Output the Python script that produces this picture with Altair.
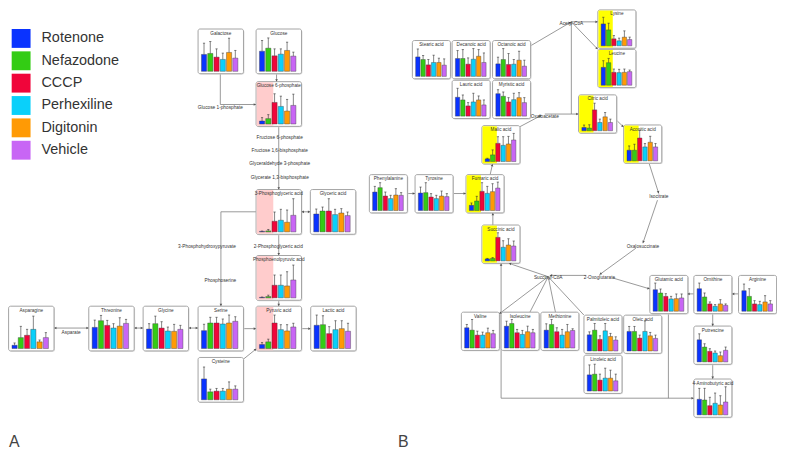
import math
import altair as alt
import pandas as pd

# ---------------- data ----------------
TREATMENTS = ["Rotenone", "Nefazodone", "CCCP", "Perhexiline", "Digitonin", "Vehicle"]
COLORS = ["#0a33ff", "#33cc14", "#f0053a", "#0ad0fa", "#ff9a05", "#c866f5"]

# panel A (glycolysis / amino acids): bar means and error bars (relative units)
GALACTOSE = [17, 18, 14.3, 12, 19, 13.3]
GALACTOSE_SD = [11.3, 12, 8.3, 6.3, 14.3, 7.7]
GLUCOSE = [20.3, 23.3, 15.6, 17.3, 21, 15.3]
GLUCOSE_SD = [10.7, 10.3, 7, 5.3, 8.3, 4]
G6P = [3, 5.4, 21.7, 17.7, 13, 18.7]
G6P_SD = [3.4, 4, 8.7, 10.3, 11.7, 11.3]
PG3 = [0.5, 1, 10.7, 11.7, 9.7, 16.7]
PG3_SD = [0.3, 1.4, 9.3, 11, 12.3, 16.7]
GLYCERIC = [18, 21, 21, 17.4, 19, 16.4]
GLYCERIC_SD = [5, 4, 12.4, 5.3, 4.4, 3.6]
PEP = [0.5, 1.3, 12.7, 12.7, 12, 18]
PEP_SD = [0.3, 1.4, 10.3, 10.3, 14.3, 15]
PYRUVIC = [4, 6.7, 25.7, 19, 17.7, 21.7]
PYRUVIC_SD = [2, 2.7, 8, 5, 6.3, 3.7]
LACTIC = [23.4, 24, 15, 19, 20, 17.4]
LACTIC_SD = [10.3, 9, 7, 9, 8, 8]
SERINE = [18, 25.7, 25.7, 24.7, 25.7, 27.4]
SERINE_SD = [6.4, 5.7, 5.7, 5, 8, 4.6]
CYSTEINE = [21, 8, 8.7, 8.7, 10.7, 10.7]
CYSTEINE_SD = [12, 2.7, 2.7, 2.7, 7.3, 3.3]
ASPARAGINE = [3.3, 11, 13.3, 19.3, 6.7, 11]
ASPARAGINE_SD = [2.3, 11.3, 6, 13.3, 1.9, 5]
THREONINE = [21.3, 28, 23.3, 20.6, 22.6, 25.3]
THREONINE_SD = [7.3, 5.3, 5, 4.4, 8.4, 4]
GLYCINE = [19.6, 25, 20.6, 17.6, 17.3, 19.3]
GLYCINE_SD = [5.4, 7.6, 6.4, 4, 7, 4]

# panel B (TCA cycle / fatty acids / amino acids)
STEARIC = [19.6, 17, 11.6, 14, 14, 11.3]
STEARIC_SD = [8, 4, 5.4, 7.3, 4.3, 6.3]
DECANOIC = [18, 18, 12.3, 17.3, 20.3, 14]
DECANOIC_SD = [8, 9, 6.3, 10.7, 6.7, 9.6]
OCTANOIC = [12.6, 17, 12, 12.3, 16.3, 10.3]
OCTANOIC_SD = [6.7, 11, 11, 4.7, 9, 6]
LAURIC = [19, 16.3, 10.3, 14.3, 16.3, 11.3]
LAURIC_SD = [9, 5, 3.3, 8.7, 4, 5]
MYRISTIC = [22.6, 20, 14.3, 16.6, 18.6, 13.6]
MYRISTIC_SD = [4, 4.3, 4.3, 6.4, 5, 5]
LYSINE = [22, 16, 7, 5, 8.7, 6.3]
LYSINE_SD = [6.7, 6.7, 3.3, 2.7, 6.3, 2.4]
LEUCINE = [18, 22.7, 13, 12.7, 13, 13.7]
LEUCINE_SD = [6.7, 4.3, 3.3, 3.3, 3.3, 1.6]
CITRIC = [3.3, 2.7, 21, 8.3, 14, 8.3]
CITRIC_SD = [2.4, 3.3, 6.7, 3.4, 4.3, 3.4]
ACONITIC = [10.7, 10.7, 23, 14, 18.7, 14]
ACONITIC_SD = [4.3, 6, 7.7, 3.4, 6, 3.4]
MALIC = [2.7, 6.7, 18.3, 16.3, 17.7, 21.7]
MALIC_SD = [0.6, 5, 6.7, 8.7, 7.6, 6.6]
FUMARIC = [5.3, 9.6, 19.3, 17.3, 19, 22.6]
FUMARIC_SD = [2.3, 4.7, 8.7, 7, 8, 6]
SUCCINIC = [2, 2.5, 23.7, 13.7, 16, 15]
SUCCINIC_SD = [0.5, 0.8, 4.6, 6.6, 6.3, 5]
PHENYLALANINE = [18.6, 23, 14.6, 12, 15.6, 15.3]
PHENYLALANINE_SD = [5.7, 5, 4, 3.3, 6.4, 2.7]
TYROSINE = [17.6, 18, 13.6, 12, 14.6, 14]
TYROSINE_SD = [6, 10, 3.4, 3.3, 5, 3]
VALINE = [20.4, 18, 13, 13, 15.4, 14.4]
VALINE_SD = [3.3, 10.7, 4, 3, 4.6, 3.3]
ISOLEUCINE = [22, 24.7, 15.4, 13.7, 16.4, 15.4]
ISOLEUCINE_SD = [5, 4, 3.3, 4, 5.6, 3.3]
METHIONINE = [18, 23.7, 16.4, 13, 16.4, 17.7]
METHIONINE_SD = [6.4, 5, 4, 5.7, 7.3, 1.7]
PALMITOLEIC = [16.3, 21, 11.7, 20.3, 14.7, 11]
PALMITOLEIC_SD = [3, 6.7, 3.6, 7.4, 3, 3.3]
OLEIC = [19.7, 19.7, 13, 19.7, 15.3, 12.7]
OLEIC_SD = [5, 5, 3, 10.6, 3.4, 3.3]
LINOLEIC = [16.3, 17, 11, 13, 13, 10.3]
LINOLEIC_SD = [10, 10, 6, 10, 8, 6.7]
GLUTAMIC = [21.7, 18.4, 15, 12.4, 12.7, 13.4]
GLUTAMIC_SD = [6.7, 4, 2.7, 2.6, 4.7, 4]
ORNITHINE = [22.7, 14.4, 7.4, 5, 7.4, 6]
ORNITHINE_SD = [5.7, 4, 2, 1.7, 4.3, 1.4]
ARGININE = [20.7, 15, 7.4, 6.7, 9.4, 7.4]
ARGININE_SD = [6.7, 7.7, 3.3, 3.3, 6.3, 3.3]
PUTRESCINE = [22.3, 15, 10.7, 9, 6.3, 11.7]
PUTRESCINE_SD = [6, 3.3, 2.6, 2, 3.7, 3.3]
GABA = [15.7, 15, 9.3, 11.7, 10, 13]
GABA_SD = [11, 11.7, 8.4, 10.3, 9.3, 15.3]

# ---------------- layout (diagram geometry, page pixels) ----------------
A_STYLE = dict(w=45.7, h=45.0, pad=3.4, pitch=6.3, bw=5.2, hl=17.3)
B_STYLE = dict(w=38.3, h=38.5, pad=3.3, pitch=5.3, bw=4.4, hl=15.0)

PANELS = [
    # title, means, sds, x0, y0, style, highlight colour
    ("Galactose", GALACTOSE, GALACTOSE_SD, 199.3, 27.7, A_STYLE, None),
    ("Glucose", GLUCOSE, GLUCOSE_SD, 257.7, 27.7, A_STYLE, None),
    ("Glucose 6-phosphate", G6P, G6P_SD, 257.7, 80.7, A_STYLE, "#ffcccc"),
    ("3-Phosphoglyceric acid", PG3, PG3_SD, 257.7, 189.3, A_STYLE, "#ffcccc"),
    ("Glyceric acid", GLYCERIC, GLYCERIC_SD, 312.3, 189.3, A_STYLE, None),
    ("Phosphoenolpyruvic acid", PEP, PEP_SD, 257.7, 255.7, A_STYLE, "#ffcccc"),
    ("Pyruvic acid", PYRUVIC, PYRUVIC_SD, 257.7, 306.7, A_STYLE, "#ffcccc"),
    ("Lactic acid", LACTIC, LACTIC_SD, 312.7, 306.7, A_STYLE, None),
    ("Serine", SERINE, SERINE_SD, 199.3, 306.7, A_STYLE, None),
    ("Cysteine", CYSTEINE, CYSTEINE_SD, 199.3, 358.3, A_STYLE, None),
    ("Asparagine", ASPARAGINE, ASPARAGINE_SD, 8.6, 306.7, A_STYLE, None),
    ("Threonine", THREONINE, THREONINE_SD, 89.3, 306.7, A_STYLE, None),
    ("Glycine", GLYCINE, GLYCINE_SD, 144.0, 306.7, A_STYLE, None),
    ("Stearic acid", STEARIC, STEARIC_SD, 415.0, 39.3, B_STYLE, None),
    ("Decanoic acid", DECANOIC, DECANOIC_SD, 455.0, 39.3, B_STYLE, None),
    ("Octanoic acid", OCTANOIC, OCTANOIC_SD, 495.7, 39.3, B_STYLE, None),
    ("Lauric acid", LAURIC, LAURIC_SD, 455.0, 79.3, B_STYLE, None),
    ("Myristic acid", MYRISTIC, MYRISTIC_SD, 495.7, 79.3, B_STYLE, None),
    ("Lysine", LYSINE, LYSINE_SD, 601.7, 8.5, B_STYLE, "#ffff00"),
    ("Leucine", LEUCINE, LEUCINE_SD, 601.7, 48.2, B_STYLE, "#ffff00"),
    ("Citric acid", CITRIC, CITRIC_SD, 582.3, 94.0, B_STYLE, "#ffff00"),
    ("Aconitic acid", ACONITIC, ACONITIC_SD, 627.7, 124.3, B_STYLE, "#ffff00"),
    ("Malic acid", MALIC, MALIC_SD, 485.0, 125.0, B_STYLE, "#ffff00"),
    ("Fumaric acid", FUMARIC, FUMARIC_SD, 469.0, 174.3, B_STYLE, "#ffff00"),
    ("Succinic acid", SUCCINIC, SUCCINIC_SD, 485.0, 225.0, B_STYLE, "#ffff00"),
    ("Phenylalanine", PHENYLALANINE, PHENYLALANINE_SD, 371.7, 174.3, B_STYLE, None),
    ("Tyrosine", TYROSINE, TYROSINE_SD, 417.7, 174.3, B_STYLE, None),
    ("Valine", VALINE, VALINE_SD, 464.3, 312.7, B_STYLE, None),
    ("Isoleucine", ISOLEUCINE, ISOLEUCINE_SD, 504.3, 312.7, B_STYLE, None),
    ("Methionine", METHIONINE, METHIONINE_SD, 544.3, 312.7, B_STYLE, None),
    ("Palmitoleic acid", PALMITOLEIC, PALMITOLEIC_SD, 587.7, 315.7, B_STYLE, None),
    ("Oleic acid", OLEIC, OLEIC_SD, 627.7, 315.7, B_STYLE, None),
    ("Linoleic acid", LINOLEIC, LINOLEIC_SD, 587.7, 356.0, B_STYLE, None),
    ("Glutamic acid", GLUTAMIC, GLUTAMIC_SD, 654.0, 275.7, B_STYLE, None),
    ("Ornithine", ORNITHINE, ORNITHINE_SD, 698.3, 275.7, B_STYLE, None),
    ("Arginine", ARGININE, ARGININE_SD, 743.3, 275.7, B_STYLE, None),
    ("Putrescine", PUTRESCINE, PUTRESCINE_SD, 698.3, 326.7, B_STYLE, None),
    ("4-Aminobutyric acid", GABA, GABA_SD, 698.3, 380.0, B_STYLE, None),
]

# pathway edges: x1, y1, x2, y2, arrow heads
EDGES = [
    (221.7, 72.7, 221.7, 103.7, "none"), (221.7, 103.7, 257.7, 103.7, "end"),
    (278.3, 72.7, 278.3, 80.7, "end"),
    (280.5, 126.0, 280.5, 189.3, "end"),
    (280.5, 234.3, 280.5, 255.7, "end"),
    (303.4, 211.7, 312.3, 211.7, "both"),
    (257.7, 211.7, 222.3, 211.7, "none"), (222.3, 211.7, 222.3, 306.7, "end"),
    (280.5, 300.7, 280.5, 306.7, "end"),
    (245.0, 329.3, 257.7, 329.3, "end"),
    (245.0, 360.0, 258.0, 349.5, "end"),
    (303.4, 329.3, 312.7, 329.3, "end"),
    (54.3, 328.7, 89.3, 328.7, "both"),
    (135.0, 328.7, 144.0, 328.7, "both"),
    (189.7, 328.7, 199.3, 328.7, "both"),
    (533.3, 45.0, 575.0, 20.5, "end"),
    (575.0, 20.5, 601.7, 20.5, "end"),
    (575.0, 20.5, 601.7, 48.2, "end"),
    (575.0, 20.5, 575.0, 113.3, "none"),
    (548.3, 113.3, 582.3, 113.3, "end"),
    (523.3, 126.0, 545.0, 114.5, "end"),
    (621.0, 120.0, 627.7, 126.5, "end"),
    (653.3, 163.0, 663.0, 193.3, "end"),
    (661.7, 200.0, 647.0, 243.3, "end"),
    (640.0, 248.3, 603.3, 275.0, "end"),
    (590.0, 275.7, 553.3, 275.7, "end"),
    (616.7, 278.3, 654.0, 289.3, "end"),
    (551.7, 277.0, 502.3, 314.5, "end"),
    (551.7, 277.0, 533.3, 312.7, "none"),
    (551.7, 277.0, 559.0, 312.7, "none"),
    (551.7, 277.0, 587.7, 315.7, "none"),
    (551.7, 277.0, 512.0, 263.5, "end"),
    (496.0, 225.0, 496.0, 212.8, "end"),
    (493.3, 174.3, 495.7, 163.5, "end"),
    (410.0, 193.3, 417.7, 193.3, "end"),
    (456.0, 193.3, 469.0, 193.3, "end"),
    (743.3, 294.3, 736.6, 294.3, "end"),
    (698.3, 294.3, 691.7, 294.3, "end"),
    (717.3, 314.2, 717.3, 326.7, "end"),
    (717.3, 365.2, 717.3, 380.0, "end"),
    (672.7, 314.2, 672.7, 399.3, "none"),
    (504.3, 399.3, 698.3, 399.3, "end"),
    (504.3, 399.3, 504.3, 263.5, "end"),
]

# intermediate metabolite labels
NODES = [
    ("Glucose 1-phosphate", 221.7, 107.6),
    ("Fructose 6-phosphate", 281.5, 137.7),
    ("Fructose 1,6-bisphosphate", 281.5, 150.7),
    ("Glyceraldehyde 3-phosphate", 281.5, 164.0),
    ("Glycerate 1,3-bisphosphate", 281.5, 177.3),
    ("2-Phosphoglyceric acid", 280.0, 247.3),
    ("3-Phosphohydroxypyruvate", 208.3, 247.3),
    ("Phosphoserine", 221.7, 281.7),
    ("Asparate", 71.5, 333.5),
    ("Acetyl-CoA", 575.0, 23.0),
    ("Oxaloacetate", 548.3, 116.7),
    ("Isocitrate", 663.0, 196.7),
    ("Oxalosuccinate", 647.0, 246.7),
    ("2-Oxoglutarate", 603.3, 278.3),
    ("Succinyl-CoA", 551.7, 278.3),
]

# ---------------- build tables ----------------
box_rows, bar_rows, hl_rows = [], [], []
for title, means, sds, x0, y0, st, hl in PANELS:
    w, h = st["w"], st["h"]
    box_rows.append(dict(title=title, x0=x0, x1=x0 + w, y0=y0, y1=y0 + h,
                         sx0=x0 + 0.9, sx1=x0 + w + 0.9, sy0=y0 + 0.9, sy1=y0 + h + 0.9,
                         cx=x0 + w / 2, ty=y0 + 4.6))
    if hl:
        hl_rows.append(dict(x0=x0 + 0.6, x1=x0 + st["hl"], y0=y0 + 0.6, y1=y0 + h - 0.6, c=hl))
    base = y0 + h - 2.4
    for i, (t, m, s) in enumerate(zip(TREATMENTS, means, sds)):
        bx0 = x0 + st["pad"] + i * st["pitch"]
        cx = bx0 + st["bw"] / 2
        bar_rows.append(dict(treatment=t, bx0=bx0, bx1=bx0 + st["bw"], base=base,
                             top=base - m, etop=base - m - s, cx=cx,
                             c0=cx - 1.1, c1=cx + 1.1))

boxes = pd.DataFrame(box_rows)
bars = pd.DataFrame(bar_rows)
hls = pd.DataFrame(hl_rows)

edge_rows, head_rows = [], []
for x1, y1, x2, y2, hd in EDGES:
    edge_rows.append(dict(x1=x1, y1=y1, x2=x2, y2=y2))
    ends = []
    if hd in ("end", "both"):
        ends.append((x1, y1, x2, y2))
    if hd == "both":
        ends.append((x2, y2, x1, y1))
    for ax, ay, bx, by in ends:
        dx, dy = bx - ax, by - ay
        L = math.hypot(dx, dy)
        ang = math.degrees(math.atan2(dx, -dy)) % 360
        head_rows.append(dict(hx=bx - dx / L * 1.3, hy=by - dy / L * 1.3, ang=ang))
edges = pd.DataFrame(edge_rows)
heads = pd.DataFrame(head_rows)
nodes = pd.DataFrame(NODES, columns=["label", "nx", "ny"])
letters = pd.DataFrame([("A", 9.0, 448.5), ("B", 400.5, 448.5)], columns=["t", "lx", "ly"])

# ---------------- chart ----------------
W, H = 774, 442
XS = alt.Scale(domain=[8, 8 + W], nice=False, zero=False)
YS = alt.Scale(domain=[8, 8 + H], nice=False, zero=False, reverse=True)
FONT = "Liberation Sans"


def X(f):
    return alt.X(f, type="quantitative", scale=XS, axis=None)


def Y(f):
    return alt.Y(f, type="quantitative", scale=YS, axis=None)


shadow = alt.Chart(boxes).mark_rect(fill="#d6d6d6", cornerRadius=2).encode(
    x=X("sx0"), x2="sx1", y=Y("sy0"), y2="sy1")
box = alt.Chart(boxes).mark_rect(fill="white", stroke="#a3a3a3", strokeWidth=1,
                                 cornerRadius=2).encode(x=X("x0"), x2="x1", y=Y("y0"), y2="y1")
highlight = alt.Chart(hls).mark_rect().encode(
    x=X("x0"), x2="x1", y=Y("y0"), y2="y1",
    fill=alt.Fill("c:N", scale=None))
titles = alt.Chart(boxes).mark_text(fontSize=4.7, font=FONT, color="#333",
                                    baseline="middle").encode(
    x=X("cx"), y=Y("ty"), text="title:N")

edge_lines = alt.Chart(edges).mark_rule(color="#808080", strokeWidth=0.8).encode(
    x=X("x1"), y=Y("y1"), x2="x2", y2="y2")
arrowheads = alt.Chart(heads).mark_point(shape="triangle-up", filled=True, size=7,
                                         color="#555", opacity=1).encode(
    x=X("hx"), y=Y("hy"), angle=alt.Angle("ang:Q", scale=None))
node_text = alt.Chart(nodes).mark_text(fontSize=4.8, font=FONT, color="#333",
                                       baseline="middle").encode(
    x=X("nx"), y=Y("ny"), text="label:N")

bar_marks = alt.Chart(bars).mark_rect(stroke="#3a3a3a", strokeWidth=0.4).encode(
    x=X("bx0"), x2="bx1", y=Y("base"), y2="top",
    color=alt.Color("treatment:N",
                    scale=alt.Scale(domain=TREATMENTS, range=COLORS),
                    legend=alt.Legend(orient="none", legendX=3.7, legendY=19.7, title=None,
                                      symbolType="square", symbolSize=361,
                                      symbolStrokeWidth=0, labelFontSize=14.5,
                                      labelFont=FONT, labelColor="#333", labelOffset=11,
                                      rowPadding=3.5, padding=0)))
err_v = alt.Chart(bars).mark_rule(color="#333", strokeWidth=0.6).encode(
    x=X("cx"), y=Y("top"), y2="etop")
err_cap = alt.Chart(bars).mark_rule(color="#333", strokeWidth=0.6).encode(
    x=X("c0"), x2="c1", y=Y("etop"))

letter_text = alt.Chart(letters).mark_text(fontSize=16, font=FONT, color="#444",
                                           align="left", baseline="alphabetic").encode(
    x=X("lx"), y=Y("ly"), text="t:N")

chart = alt.layer(
    edge_lines, shadow, box, highlight, titles, bar_marks, err_v, err_cap,
    arrowheads, node_text, letter_text
).properties(
    width=W, height=H, padding=0, autosize=alt.AutoSizeParams(type="none")
).configure_view(stroke=None)

chart.save("out.html", embed_options={"renderer": "svg", "actions": False})
